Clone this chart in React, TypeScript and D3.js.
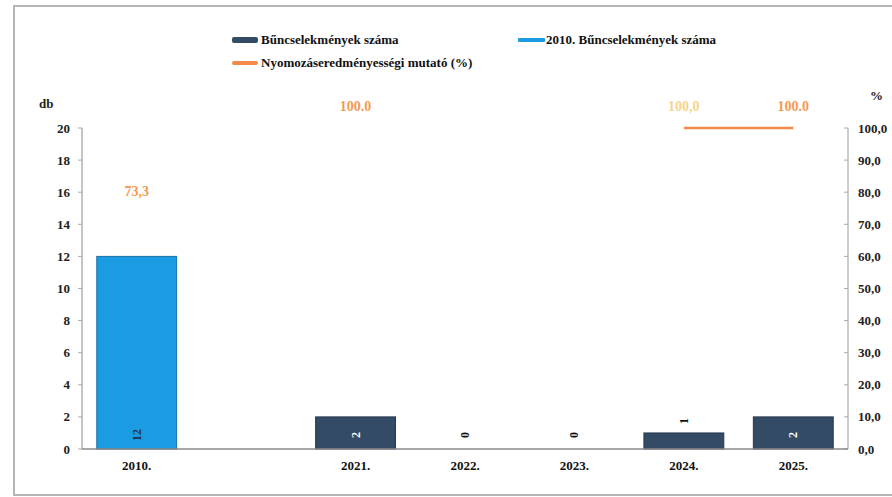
import React from "react";
import * as d3 from "d3";

const categories = ["2010.", "", "2021.", "2022.", "2023.", "2024.", "2025."];
const crimes: (number | null)[] = [null, null, 2, 0, 0, 1, 2];
const crimes2010: (number | null)[] = [12, null, null, null, null, null, null];
const rate: (number | null)[] = [73.3, null, 100, null, null, 100, 100];
const rateLabels = ["73,3", "", "100.0", "", "", "100,0", "100.0"];
const leftTicks = [0, 2, 4, 6, 8, 10, 12, 14, 16, 18, 20];
const rightTicks = [0, 10, 20, 30, 40, 50, 60, 70, 80, 90, 100];

const W = 892, H = 497;
const plot = { left: 82, right: 848, top: 128, bottom: 449 };
const font = "Liberation Serif, DejaVu Serif, Times New Roman, serif";

export default function App() {
  const x = d3.scaleBand<number>().domain(d3.range(categories.length)).range([plot.left, plot.right]).paddingInner(0.27).paddingOuter(0.135);
  const yL = d3.scaleLinear().domain([0, 20]).range([plot.bottom, plot.top]);
  const yR = d3.scaleLinear().domain([0, 100]).range([plot.bottom, plot.top]);
  const cx = (i: number) => (x(i) as number) + x.bandwidth() / 2;
  const line = d3.line<number | null>()
    .defined((d, i) => d !== null && i >= 5)
    .x((_, i) => cx(i))
    .y((d) => yR(d as number));

  const barLabel = (v: number, i: number, color: string) => {
    const h = yL(0) - yL(v);
    const ly = v > 0 && h < 20 ? yL(v) - 12 : yL(0) - 14;
    return (
      <text key={"bl" + i} transform={`translate(${cx(i)},${ly}) rotate(-90)`} textAnchor="middle" dominantBaseline="central"
        fontWeight="bold" fontSize={12} fill={v > 0 && h >= 20 ? color : "#111"}>{v}</text>
    );
  };

  return (
    <svg width={W} height={H} style={{ position: "absolute", left: 0, top: 0, background: "#fff", fontFamily: font }}>
      <rect x={14} y={6} width={W} height={489} fill="#fff" stroke="#b5b5b5" strokeWidth={2} />
      {/* legend */}
      <g fontWeight="bold" fontSize={13} fill="#111">
        <rect x={232} y={37} width={26} height={6} rx={2} fill="#344b66" />
        <text x={261} y={44}>Bűncselekmények száma</text>
        <rect x={518} y={38} width={27} height={4} rx={1} fill="#1b9ce2" />
        <text x={546} y={44}>2010. Bűncselekmények száma</text>
        <rect x={232} y={61} width={26} height={4} rx={2} fill="#f4894a" />
        <text x={261} y={67}>Nyomozáseredményességi mutató (%)</text>
      </g>
      {/* axis titles */}
      <text x={39} y={108} fontWeight="bold" fontSize={13} fill="#222">db</text>
      <text x={870} y={100} fontWeight="bold" fontSize={13} fill="#222">%</text>
      {/* left axis */}
      <line x1={plot.left} x2={plot.left} y1={plot.top} y2={plot.bottom} stroke="#8a8a8a" />
      {leftTicks.map((t) => (
        <g key={"l" + t}>
          <line x1={plot.left - 4} x2={plot.left} y1={yL(t)} y2={yL(t)} stroke="#aaa" />
          <text x={70} y={yL(t)} textAnchor="end" dominantBaseline="central" fontWeight="bold" fontSize={13} fill="#222">{t}</text>
        </g>
      ))}
      {/* right axis */}
      <line x1={plot.right} x2={plot.right} y1={plot.top} y2={plot.bottom} stroke="#9a9a9a" />
      {rightTicks.map((t) => (
        <g key={"r" + t}>
          <line x1={plot.right - 4} x2={plot.right} y1={yR(t)} y2={yR(t)} stroke="#aaa" />
          <text x={858} y={yR(t)} textAnchor="start" dominantBaseline="central" fontWeight="bold" fontSize={13} fill="#222">{t.toFixed(1).replace(".", ",")}</text>
        </g>
      ))}
      {/* bars */}
      {crimes2010.map((v, i) => v !== null && v > 0 ? (
        <rect key={"b10" + i} x={x(i)} y={yL(v)} width={x.bandwidth()} height={yL(0) - yL(v)} fill="#1b9ce2" stroke="#1e6fa3" strokeWidth={1} />
      ) : null)}
      {crimes.map((v, i) => v !== null && v > 0 ? (
        <rect key={"b" + i} x={x(i)} y={yL(v)} width={x.bandwidth()} height={yL(0) - yL(v)} fill="#344b66" stroke="#26384e" strokeWidth={1} />
      ) : null)}
      {/* baseline */}
      <line x1={plot.left} x2={plot.right} y1={plot.bottom} y2={plot.bottom} stroke="#8a8a8a" strokeWidth={1.5} />
      {/* bar labels */}
      {crimes2010.map((v, i) => v !== null ? barLabel(v, i, "#1d3550") : null)}
      {crimes.map((v, i) => v !== null ? barLabel(v, i, "#fff") : null)}
      {/* line */}
      <path d={line(rate) || ""} fill="none" stroke="#f4894a" strokeWidth={2.5} />
      {rate.map((v, i) => v !== null ? (
        <text key={"rl" + i} x={cx(i)} y={yR(v) - 22} textAnchor="middle" dominantBaseline="central"
          fontWeight="bold" fontSize={14} fill={i === 5 ? "#f5d58c" : "#f59a52"}>{rateLabels[i]}</text>
      ) : null)}
      {/* x labels */}
      {categories.map((c, i) => (
        <text key={"x" + i} x={cx(i)} y={465} textAnchor="middle" dominantBaseline="central" fontWeight="bold" fontSize={13} fill="#111">{c}</text>
      ))}
    </svg>
  );
}
